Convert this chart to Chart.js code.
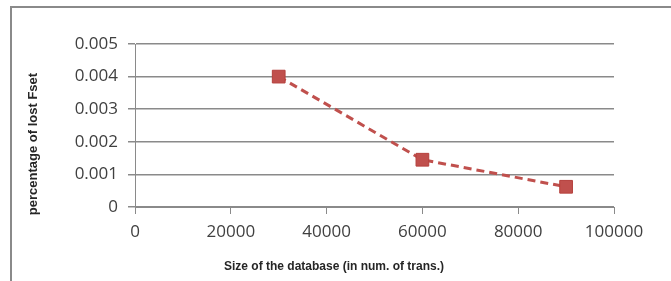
<!DOCTYPE html>
<html>
<head>
<meta charset="utf-8">
<script src="https://cdn.jsdelivr.net/npm/chart.js@4"></script>
<style>
  html, body { margin: 0; padding: 0; background: #fff; }
  #wrap { position: relative; width: 671px; height: 281px; overflow: hidden; }
  #marco { position: absolute; left: 10px; top: 6px; width: 700px; height: 300px;
           border-left: 2px solid #8a8a8a; border-top: 2px solid #8a8a8a; }
  canvas { position: absolute; left: 0; top: 0; }
</style>
</head>
<body>
<div id="wrap">
  <div id="marco"></div>
  <canvas id="grafico" width="671" height="281"></canvas>
</div>
<script>
// datos
var tamanos = [30000, 60000, 90000];
var perdidas = [0.004, 0.00145, 0.00062];
var ticksY = [0, 0.001, 0.002, 0.003, 0.004, 0.005];
var ticksX = [0, 20000, 40000, 60000, 80000, 100000];
var tituloX = 'Size of the database (in num. of trans.)';
var tituloY = 'percentage of lost Fset';

var puntos = tamanos.map(function(t, i){ return {x: t, y: perdidas[i]}; });

// titulos de ejes dibujados a mano (no quedan centrados en el area del grafico)
var titulosEjes = {
    id: 'titulosEjes',
    afterDraw: function(chart){
        var c = chart.ctx;
        c.save();
        c.fillStyle = '#262626';
        c.textAlign = 'center';
        c.textBaseline = 'middle';
        c.font = 'bold 12px "Liberation Sans"';
        c.fillText(tituloX, 334, 267);
        c.translate(33, 144);
        c.rotate(-Math.PI / 2);
        c.font = 'bold 13px "Liberation Sans"';
        c.fillText(tituloY, 0, 0);
        c.restore();
    }
};

var ctx = document.getElementById('grafico');

new Chart(ctx, {
    type: 'scatter',
    data: {
        datasets: [{
            data: puntos,
            showLine: true,
            borderColor: '#C0504D',
            borderWidth: 3,
            borderDash: [8, 5],
            backgroundColor: '#C0504D',
            pointStyle: 'rect',
            pointRadius: 9,
            pointBorderColor: '#B5403D',
            pointBorderWidth: 1,
            pointBackgroundColor: '#C0504D'
        }]
    },
    plugins: [titulosEjes],
    options: {
        responsive: false,
        animation: false,
        layout: { padding: { left: 27, top: 44, right: 57, bottom: 8 } },
        plugins: { legend: { display: false }, tooltip: { enabled: false } },
        scales: {
            x: {
                type: 'linear',
                min: 0, max: 100000,
                afterBuildTicks: function(s){ s.ticks = ticksX.map(function(v){ return {value: v}; }); },
                afterFit: function(s){ s.height = 66; },
                grid: { display: true, drawOnChartArea: false, tickLength: 7, color: '#8a8a8a' },
                border: { color: '#8a8a8a', width: 1 },
                ticks: { color: '#404040', font: { family: 'Open Sans', size: 17 }, padding: 8, maxRotation: 0,
                         callback: function(v){ return String(v); } }
            },
            y: {
                min: 0, max: 0.005,
                afterBuildTicks: function(s){ s.ticks = ticksY.map(function(v){ return {value: v}; }); },
                afterFit: function(s){ s.width = 108; },
                grid: { color: '#8a8a8a', tickLength: 7, lineWidth: 1.5 },
                border: { color: '#8a8a8a', width: 1 },
                ticks: { color: '#404040', font: { family: 'Open Sans', size: 17 }, padding: 10,
                         callback: function(v){ return String(v); } }
            }
        }
    }
});
</script>
</body>
</html>
